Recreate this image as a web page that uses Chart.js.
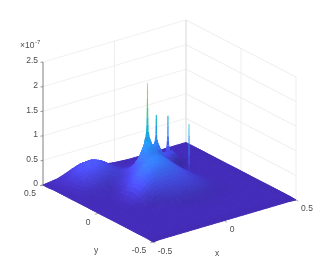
<!DOCTYPE html>
<html>
<head>
<meta charset="utf-8">
<script src="https://cdn.jsdelivr.net/npm/chart.js@4/dist/chart.umd.min.js"></script>
<style>
  html, body { margin: 0; padding: 0; background: #fff; }
  canvas { display: block; filter: blur(0.5px); }
</style>
</head>
<body>
<canvas id="chart" width="327" height="273"></canvas>
<script>
const xValues = [-0.5, -0.45, -0.4, -0.35, -0.3, -0.25, -0.2, -0.15, -0.1, -0.05, 0, 0.05, 0.1, 0.15, 0.2, 0.25, 0.3, 0.35, 0.4, 0.45, 0.5];
const yValues = [0.5, 0.45, 0.4, 0.35, 0.3, 0.25, 0.2, 0.15, 0.1, 0.05, 0, -0.05, -0.1, -0.15, -0.2, -0.25, -0.3, -0.35, -0.4, -0.45, -0.5];

// surface height, units of 1e-9, one row per y value
const zRows = [
  [0, 2, 4, 9, 15, 20, 21, 17, 11, 5, 3, 2, 1, 1, 1, 1, 1, 1, 1, 1, 1],
  [0, 3, 7, 13, 23, 30, 31, 26, 16, 8, 4, 2, 2, 2, 2, 2, 2, 2, 2, 1, 1],
  [1, 3, 8, 16, 27, 35, 36, 29, 18, 9, 4, 3, 2, 2, 2, 2, 2, 2, 2, 2, 1],
  [1, 3, 7, 14, 24, 31, 32, 26, 16, 10, 10, 10, 12, 14, 18, 18, 6, 2, 2, 2, 1],
  [1, 3, 6, 12, 19, 24, 24, 20, 16, 18, 26, 28, 34, 22, 30, 30, 8, 2, 2, 2, 1],
  [1, 2, 5, 8, 12, 15, 15, 14, 15, 32, 52, 44, 70, 30, 20, 10, 3, 2, 2, 2, 1],
  [1, 2, 3, 5, 6, 8, 10, 15, 26, 50, 95, 58, 44, 28, 14, 5, 2, 2, 2, 2, 1],
  [1, 2, 2, 3, 4, 4, 10, 24, 40, 56, 66, 54, 42, 27, 13, 5, 3, 2, 2, 2, 1],
  [1, 2, 2, 2, 3, 6, 20, 42, 55, 62, 62, 52, 38, 26, 13, 5, 3, 2, 2, 2, 1],
  [1, 2, 2, 2, 3, 8, 30, 48, 58, 60, 56, 48, 36, 26, 15, 7, 3, 2, 2, 2, 1],
  [1, 2, 2, 2, 3, 8, 30, 44, 50, 52, 48, 40, 31, 22, 14, 7, 3, 2, 2, 2, 1],
  [1, 2, 2, 2, 3, 5, 16, 28, 34, 36, 35, 30, 24, 18, 12, 6, 3, 2, 2, 2, 1],
  [1, 2, 2, 2, 2, 2, 5, 12, 18, 22, 23, 21, 18, 14, 9, 5, 3, 2, 2, 2, 1],
  [1, 2, 2, 2, 2, 2, 3, 5, 8, 11, 12, 12, 10, 8, 5, 3, 2, 2, 2, 2, 1],
  [1, 2, 2, 2, 2, 2, 2, 3, 4, 5, 5, 5, 5, 4, 3, 2, 2, 2, 2, 2, 1],
  [1, 2, 2, 2, 2, 2, 2, 2, 2, 3, 3, 3, 3, 3, 2, 2, 2, 2, 2, 2, 1],
  [1, 2, 2, 2, 2, 2, 2, 2, 2, 2, 2, 2, 2, 2, 2, 2, 2, 2, 2, 2, 1],
  [1, 2, 2, 2, 2, 2, 2, 2, 2, 2, 2, 2, 2, 2, 2, 2, 2, 2, 2, 2, 1],
  [1, 2, 2, 2, 2, 2, 2, 2, 2, 2, 2, 2, 2, 2, 2, 2, 2, 2, 2, 2, 1],
  [1, 2, 2, 2, 2, 2, 2, 2, 2, 2, 2, 2, 2, 2, 2, 2, 2, 2, 2, 2, 1],
  [0, 1, 1, 1, 1, 1, 1, 1, 1, 1, 1, 1, 1, 1, 1, 1, 1, 1, 1, 1, 0]
];

// the narrow peaks: location, heights (1e-7) and cone radius at each height
const spikeX = [0, 0.1, 0.23, 0.195];
const spikeY = [0.2, 0.25, 0.313, 0.076];
const spikeLevels = [
  [0.8, 0.9, 1, 1.15, 1.3, 1.5, 1.7, 1.85, 2],
  [0.6, 0.7, 0.8, 1, 1.2],
  [0.25, 0.3, 0.4, 0.5, 0.6, 0.8, 1],
  [0.1, 0.3, 0.5, 0.7, 0.9, 1.14]
];
const spikeRadii = [
  [0.02, 0.012, 0.008, 0.006, 0.005, 0.004, 0.003, 0.003, 0.002],
  [0.012, 0.008, 0.005, 0.004, 0.003],
  [0.02, 0.012, 0.008, 0.006, 0.004, 0.0035, 0.003],
  [0.003, 0.003, 0.003, 0.003, 0.003, 0.002]
];

const zTicks = [0, 0.5, 1, 1.5, 2, 2.5];
const zTickLabels = ['0', '0.5', '1', '1.5', '2', '2.5'];
const wallTicks = [-0.5, 0, 0.5];

// parula colormap
const parula = [
  [62, 38, 168], [72, 82, 244], [45, 135, 247], [17, 177, 214],
  [55, 200, 151], [171, 199, 57], [254, 195, 56], [249, 251, 21]
];
const zColorMax = 2.4;
const cellSteps = 3;

function rgbFor(z, shade) {
  const t = Math.min(Math.max(z / zColorMax, 0), 1) * (parula.length - 1);
  const i = Math.min(Math.floor(t), parula.length - 2);
  const f = t - i;
  return parula[i].map((v, k) => (v + (parula[i + 1][k] - v) * f) * shade);
}

function css(c) {
  return `rgb(${c.map(v => Math.min(255, Math.round(v))).join(',')})`;
}

// orthographic view of the MATLAB axes box
function project(x, y, z) {
  const u = x + 0.5;
  const v = 0.5 - y;
  return { x: 43 + 143 * u + 110 * v, y: 185 - 42 * u + 57 * v - 49.2 * z };
}

function polygon(points, color) {
  return {
    data: points.concat([points[0]]),
    showLine: true,
    fill: 'shape',
    backgroundColor: color,
    borderColor: color,
    borderWidth: 1,
    pointRadius: 0,
    tension: 0
  };
}

function line(a, b, color, width) {
  return {
    data: [a, b],
    showLine: true,
    fill: false,
    borderColor: color,
    borderWidth: width,
    pointRadius: 0
  };
}

// colour at a grid node, with light from behind the peak like the lit MATLAB surface
function nodeColor(j, i) {
  const jn = Math.min(j + 1, yValues.length - 1), jp = Math.max(j - 1, 0);
  const in_ = Math.min(i + 1, xValues.length - 1), ip = Math.max(i - 1, 0);
  const z = zRows[j][i] / 100;
  const dzFront = (zRows[jn][i] - zRows[jp][i]) / 100 / ((jn - jp) * 0.05);
  const dzRight = (zRows[j][in_] - zRows[j][ip]) / 100 / ((in_ - ip) * 0.05);
  const lowSlope = 1 / (1 + 6 * z); // shallow ground shows the shadow band most
  const shade = 1.08 + (0.03 + 0.09 * lowSlope) * dzFront + (0.015 + 0.05 * lowSlope) * dzRight;
  return rgbFor(z, Math.min(1.14, Math.max(0.74, shade)));
}

function mix(a, b, f) {
  return a.map((v, k) => v + (b[k] - v) * f);
}

// back to front, reversed at the end because Chart.js paints the first dataset last
const drawList = [];

zTicks.forEach(z => {
  drawList.push(line(project(-0.5, 0.5, z), project(0.5, 0.5, z), '#ececec', 0.8));
  drawList.push(line(project(0.5, 0.5, z), project(0.5, -0.5, z), '#e8e8e8', 0.8));
});
drawList.push(line(project(0, 0.5, 0), project(0, 0.5, 2.5), '#ececec', 0.9));
drawList.push(line(project(0.5, 0, 0), project(0.5, 0, 2.5), '#ececec', 0.9));
drawList.push(line(project(0.5, -0.5, 0), project(0.5, -0.5, 2.5), '#ececec', 0.9));
drawList.push(line(project(0.5, 0.5, 0), project(0.5, 0.5, 2.5), '#dedede', 1.2));

// z axis and ticks
drawList.push(line(project(-0.5, 0.5, 0), project(-0.5, 0.5, 2.5), '#707070', 0.9));
zTicks.forEach(z => {
  const p = project(-0.5, 0.5, z);
  drawList.push(line(p, { x: p.x - 2.5, y: p.y + 0.4 }, '#707070', 0.7));
});
wallTicks.forEach(t => {
  const a = project(-0.5, t, 0);
  drawList.push(line(a, project(-0.52, t, 0), '#808080', 0.7));
  const b = project(t, -0.5, 0);
  drawList.push(line(b, project(t, -0.52, 0), '#808080', 0.7));
});

// each cell is painted in a few pieces so the colour blends across it (shading interp)
for (let j = 0; j < yValues.length - 1; j++) {
  for (let i = xValues.length - 2; i >= 0; i--) {
    const z00 = zRows[j][i] / 100, z10 = zRows[j][i + 1] / 100;
    const z01 = zRows[j + 1][i] / 100, z11 = zRows[j + 1][i + 1] / 100;
    const c00 = nodeColor(j, i), c10 = nodeColor(j, i + 1);
    const c01 = nodeColor(j + 1, i), c11 = nodeColor(j + 1, i + 1);
    const x0 = xValues[i], x1 = xValues[i + 1], y0 = yValues[j], y1 = yValues[j + 1];
    const corner = (a, b) => project(
      x0 + (x1 - x0) * a,
      y0 + (y1 - y0) * b,
      (z00 * (1 - a) + z10 * a) * (1 - b) + (z01 * (1 - a) + z11 * a) * b
    );
    for (let b = 0; b < cellSteps; b++) {
      for (let a = cellSteps - 1; a >= 0; a--) {
        const fa = (a + 0.5) / cellSteps, fb = (b + 0.5) / cellSteps;
        const color = mix(mix(c00, c10, fa), mix(c01, c11, fa), fb);
        const a0 = a / cellSteps, a1 = (a + 1) / cellSteps;
        const b0 = b / cellSteps, b1 = (b + 1) / cellSteps;
        drawList.push(polygon([corner(a0, b0), corner(a1, b0), corner(a1, b1), corner(a0, b1)], css(color)));
      }
    }
  }
}

spikeX.forEach((sx, s) => {
  const levels = spikeLevels[s];
  const radii = spikeRadii[s];
  for (let k = 0; k < levels.length - 1; k++) {
    const r0 = radii[k], r1 = radii[k + 1];
    drawList.push(polygon([
      project(sx - 0.81 * r0, spikeY[s] + 0.59 * r0, levels[k]),
      project(sx + 0.81 * r0, spikeY[s] - 0.59 * r0, levels[k]),
      project(sx + 0.81 * r1, spikeY[s] - 0.59 * r1, levels[k + 1]),
      project(sx - 0.81 * r1, spikeY[s] + 0.59 * r1, levels[k + 1])
    ], css(rgbFor((levels[k] + levels[k + 1]) / 2, 1))));
    drawList[drawList.length - 1].borderWidth = 0;
  }
});

const axisText = {
  id: 'axisText',
  afterDraw(chart) {
    const ctx = chart.ctx;
    ctx.save();
    ctx.fillStyle = '#4d4d4d';
    ctx.textBaseline = 'middle';
    ctx.font = '8.5px "Liberation Sans", sans-serif';
    ctx.textAlign = 'right';
    zTicks.forEach((z, i) => {
      const p = project(-0.5, 0.5, z);
      ctx.fillText(zTickLabels[i], p.x - 5, p.y - 1);
    });
    ctx.textAlign = 'center';
    ctx.fillText('0.5', 30, 194);
    ctx.fillText('0', 88, 223);
    ctx.fillText('-0.5', 139, 251);
    ctx.fillText('y', 96, 251);
    ctx.fillText('-0.5', 165, 252);
    ctx.fillText('0', 232, 230);
    ctx.fillText('0.5', 307, 209);
    ctx.fillText('x', 217, 254);
    ctx.textAlign = 'left';
    ctx.fillText('\u00d710', 20, 46);
    ctx.font = '6px "Liberation Sans", sans-serif';
    ctx.fillText('-7', 35, 42);
    ctx.restore();
  }
};

new Chart(document.getElementById('chart'), {
  type: 'scatter',
  data: { datasets: drawList.reverse() },
  options: {
    responsive: false,
    animation: false,
    layout: { padding: 0 },
    events: [],
    plugins: { legend: { display: false }, tooltip: { enabled: false } },
    scales: {
      x: { type: 'linear', display: false, min: 0, max: 327 },
      y: { type: 'linear', display: false, min: 0, max: 273, reverse: true }
    }
  },
  plugins: [axisText]
});
</script>
</body>
</html>
